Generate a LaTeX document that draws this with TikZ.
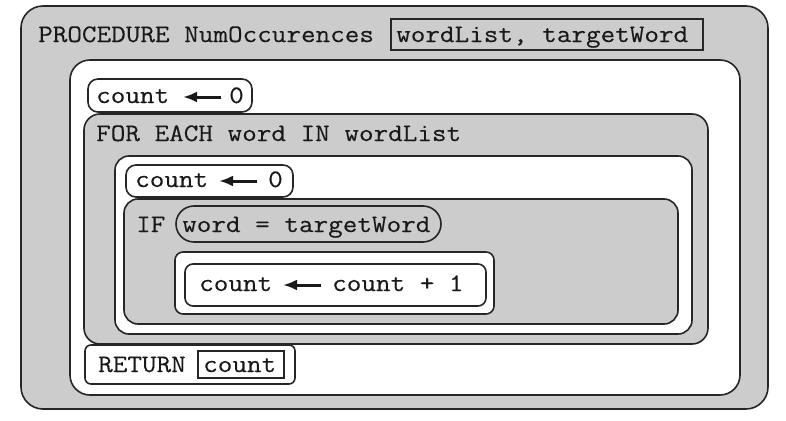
\documentclass[tikz,border=0pt]{standalone}
\usepackage{fontspec}
\setmonofont{Latin Modern Mono}[FakeStretch=1.125,FakeBold=0.25]
\usetikzlibrary{arrows.meta}
\begin{document}
\begin{tikzpicture}[x=1pt,y=-1pt,
  graybox/.style={draw=black!85,line width=1.6pt,fill=black!20},
  whitebox/.style={draw=black!85,line width=1.6pt,fill=white},
  slotbox/.style={draw=black!85,line width=1.4pt},
  code/.style={font=\ttfamily\fontsize{25.2}{29}\selectfont,inner sep=0pt,anchor=base west,text=black!90},
  asg/.style={line width=3pt,draw=black!90,-{Latex[length=14pt,width=11pt]}}]
\useasboundingbox (0,0) rectangle (786,420);
% procedure
\draw[graybox,rounded corners=22] (21,6) rectangle (768,409);
\node[code] (proc) at (38,42) {PROCEDURE NumOccurences};
\draw[slotbox] (391,19) rectangle (703,50);
\node[code] (params) at (396,42) {wordList, targetWord};
% body
\draw[whitebox,rounded corners=20] (70,60) rectangle (740,395);
% count <- 0
\draw[whitebox,rounded corners=10] (88,79) rectangle (252,112);
\node[code] (c1) at (96,103) {count};
\node[code] (z1) at (229,103) {0};
\coordinate (a1s) at (221,97);
\coordinate (a1e) at (183,97);
\draw[asg] (a1s) -- (a1e);
% for each
\draw[graybox,rounded corners=16] (84,114) rectangle (708,344);
\node[code] (for) at (96,141) {FOR EACH word IN wordList};
\draw[whitebox,rounded corners=14] (115,156) rectangle (692,334);
% count <- 0 (inner)
\draw[whitebox,rounded corners=10] (126,165) rectangle (293,197);
\node[code] (c2) at (135,187) {count};
\node[code] (z2) at (268,187) {0};
\coordinate (a2s) at (257,181);
\coordinate (a2e) at (219,181);
\draw[asg] (a2s) -- (a2e);
% if
\draw[graybox,rounded corners=14] (124,199) rectangle (678,324);
\node[code] (if) at (136,232) {IF};
\draw[graybox,rounded corners=18] (176,206) rectangle (441,242);
\node[code] (cond) at (182,232) {word = targetWord};
\draw[whitebox,rounded corners=8] (175,252) rectangle (494,314);
\draw[whitebox,rounded corners=8] (185,264) rectangle (486,306);
\node[code] (c3) at (199,291) {count};
\node[code] (c4) at (332,291) {count + 1};
\coordinate (a3s) at (321,285);
\coordinate (a3e) at (283,285);
\draw[asg] (a3s) -- (a3e);
% return
\draw[whitebox,rounded corners=6] (85,345) rectangle (295,384);
\node[code] (ret) at (98,372) {RETURN};
\draw[slotbox] (198,351) rectangle (284,378);
\node[code] (rv) at (203,372) {count};
\end{tikzpicture}
\end{document}
